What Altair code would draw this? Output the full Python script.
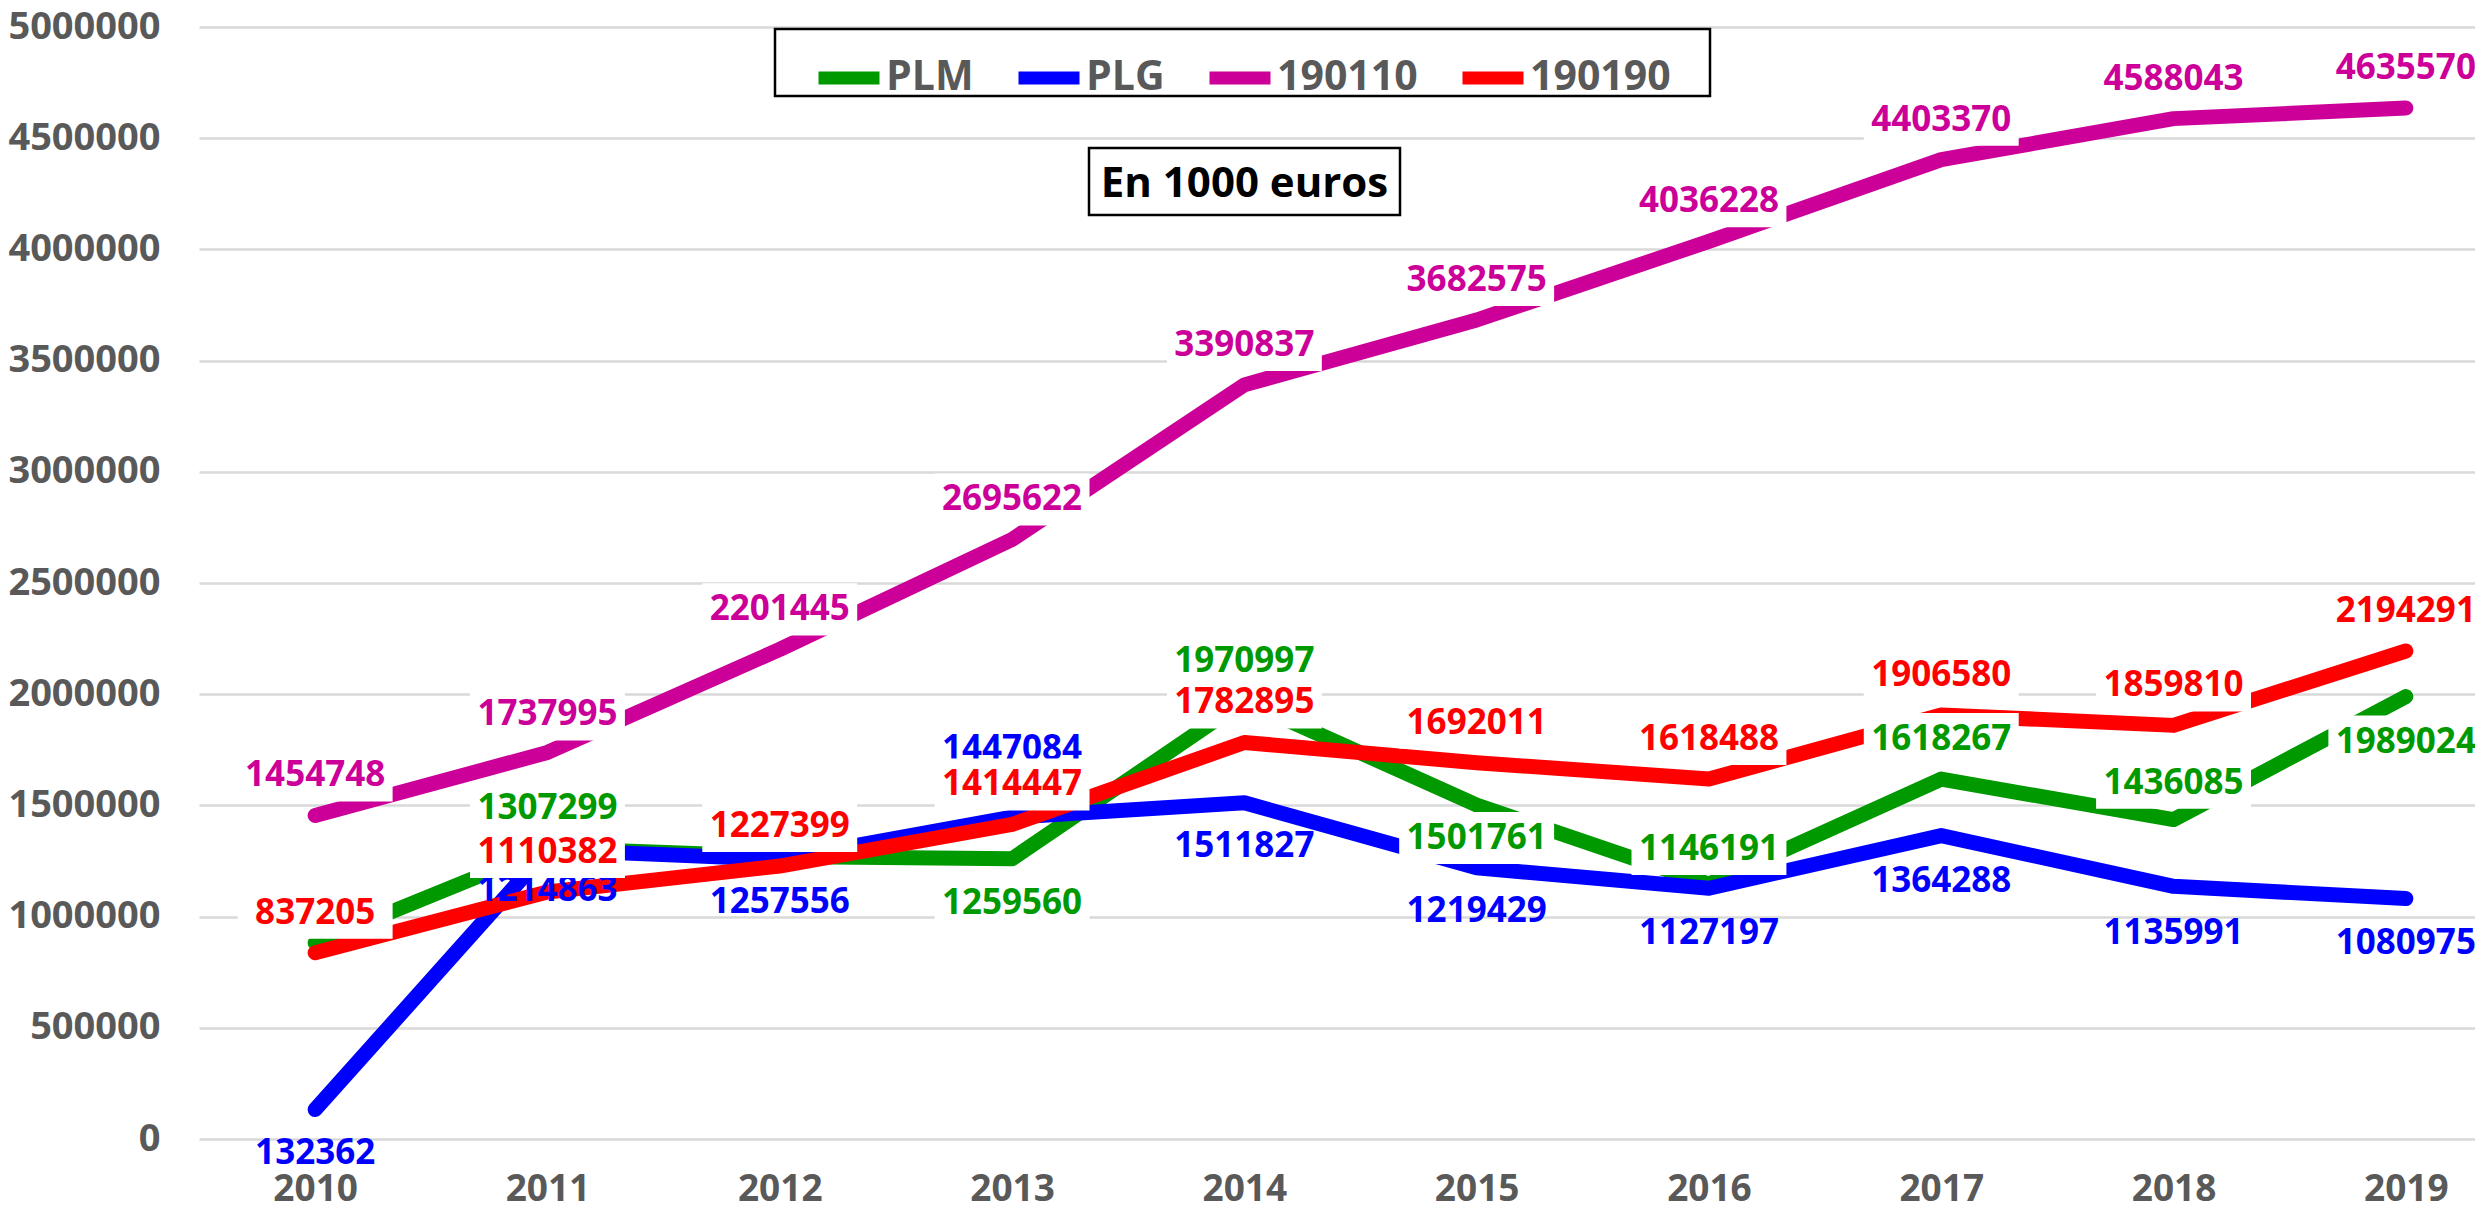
import altair as alt
import pandas as pd

years = [2010, 2011, 2012, 2013, 2014, 2015, 2016, 2017, 2018, 2019]
series_names = ["PLM", "PLG", "190110", "190190"]
series_colors = ["#009900", "#0000FF", "#CC0099", "#FF0000"]

# values
plm = [882000, 1307299, 1270000, 1259560, 1970997, 1501761, 1146191, 1618267, 1436085, 1989024]
plg = [132362, 1300000, 1257556, 1447084, 1511827, 1219429, 1127197, 1364288, 1135991, 1080975]
s190110 = [1454748, 1737995, 2201445, 2695622, 3390837, 3682575, 4036228, 4403370, 4588043, 4635570]
s190190 = [837205, 1110382, 1227399, 1414447, 1782895, 1692011, 1618488, 1906580, 1859810, 2194291]

# data label texts as printed on the chart
plm_text = ["", "1307299", "", "1259560", "1970997", "1501761", "1146191", "1618267", "1436085", "1989024"]
plg_text = ["132362", "1214863", "1257556", "1447084", "1511827", "1219429", "1127197", "1364288", "1135991", "1080975"]
s190110_text = [str(v) for v in s190110]
s190190_text = [str(v) for v in s190190]

# label placement (pixels, negative = above the point)
plm_dy = [0, -40, 0, 44, -40, 33, -35, -40, -37, 45]
plg_dy = [43, 40, 43, -68, 43, 43, 45, 45, 47, 44]
s190110_dy = [-40, -38, -40, -40, -40, -40, -40, -40, -40, -40]
s190190_dy = [-40, -40, -40, -40, -40, -40, -40, -40, -40, -40]
label_bg = [True, False, True, True]

Y_MAX = 5000000
PLOT_W = 2276
PLOT_H = 1112
GRAY = "#595959"
FONT = "Open Sans"

all_vals = [plm, plg, s190110, s190190]
all_text = [plm_text, plg_text, s190110_text, s190190_text]
all_dy = [plm_dy, plg_dy, s190110_dy, s190190_dy]

color_scale = alt.Scale(domain=series_names, range=series_colors)

frames = []
for name, vals, texts, dys in zip(series_names, all_vals, all_text, all_dy):
    frames.append(pd.DataFrame({
        "year": years,
        "series": name,
        "value": vals,
        "label": texts,
        "label_y": [v - d * Y_MAX / PLOT_H for v, d in zip(vals, dys)],
    }))

x_scale = alt.Scale(domain=[2009.5, 2009.5 + PLOT_W / 232.3], nice=False, zero=False)
y_scale = alt.Scale(domain=[0, Y_MAX], nice=False)

x_axis = alt.Axis(values=years, format="d", title=None, grid=False, domain=False, ticks=False,
                  labelFont=FONT, labelFontSize=37, labelFontWeight="bold", labelColor=GRAY,
                  labelPadding=32)
y_axis = alt.Axis(values=list(range(0, Y_MAX + 1, 500000)), format="d", title=None, grid=True,
                  gridColor="#d9d9d9", gridWidth=2.5, domain=False, ticks=False,
                  labelFont=FONT, labelFontSize=38, labelFontWeight="bold", labelColor=GRAY,
                  labelPadding=39)

legend = alt.Legend(orient="none", legendX=613, legendY=14, direction="horizontal", title=None,
                    symbolType="stroke", symbolSize=3721, symbolStrokeWidth=13,
                    labelFont=FONT, labelFontSize=41, labelFontWeight="bold", labelColor=GRAY,
                    labelOffset=0, columnPadding=18, padding=0, labelLimit=500)


def X():
    return alt.X("year:Q", scale=x_scale, axis=x_axis)


def Y(field):
    return alt.Y(field, scale=y_scale, axis=y_axis)


layers = []
for i, df in enumerate(frames):
    layers.append(
        alt.Chart(df).mark_line(strokeWidth=15, strokeCap="round", strokeJoin="round").encode(
            x=X(),
            y=Y("value:Q"),
            color=alt.Color("series:N", scale=color_scale, legend=legend),
        )
    )

one = pd.DataFrame({"k": [0]})
legend_box = alt.Chart(one).mark_rect(fill="white", stroke="black", strokeWidth=2.5).encode(
    x=alt.value(576), x2=alt.value(1511), y=alt.value(2), y2=alt.value(69))
unit_box = alt.Chart(one).mark_rect(fill="white", stroke="black", strokeWidth=2.5).encode(
    x=alt.value(890), x2=alt.value(1201), y=alt.value(121), y2=alt.value(188))
unit_text = alt.Chart(one).mark_text(text="En 1000 euros", font=FONT, fontSize=42, fontWeight="bold",
                                     color="black", align="center", baseline="middle").encode(
    x=alt.value(1045.5), y=alt.value(157))
layers += [legend_box, unit_box, unit_text]

rect_path = "M-1,-0.336L1,-0.336L1,0.336L-1,0.336Z"
for i, df in enumerate(frames):
    d = df[df["label"] != ""]
    if label_bg[i]:
        layers.append(
            alt.Chart(d).mark_point(shape=rect_path, filled=True, fill="white", opacity=1,
                                    strokeWidth=0, size=24000).encode(
                x=X(),
                y=Y("label_y:Q"),
            )
        )
    layers.append(
        alt.Chart(d).mark_text(font=FONT, fontSize=35, fontWeight="bold", align="center",
                               baseline="middle").encode(
            x=X(),
            y=Y("label_y:Q"),
            text="label:N",
            color=alt.Color("series:N", scale=color_scale, legend=legend),
        )
    )

chart = alt.layer(*layers).properties(
    width=PLOT_W, height=PLOT_H,
    autosize=alt.AutoSizeParams(type="none"),
    padding={"left": 191, "top": 19, "right": 0, "bottom": 76},
    background="white",
).configure_view(stroke=None)

chart.save("out.html", embed_options={"renderer": "svg", "actions": False})
